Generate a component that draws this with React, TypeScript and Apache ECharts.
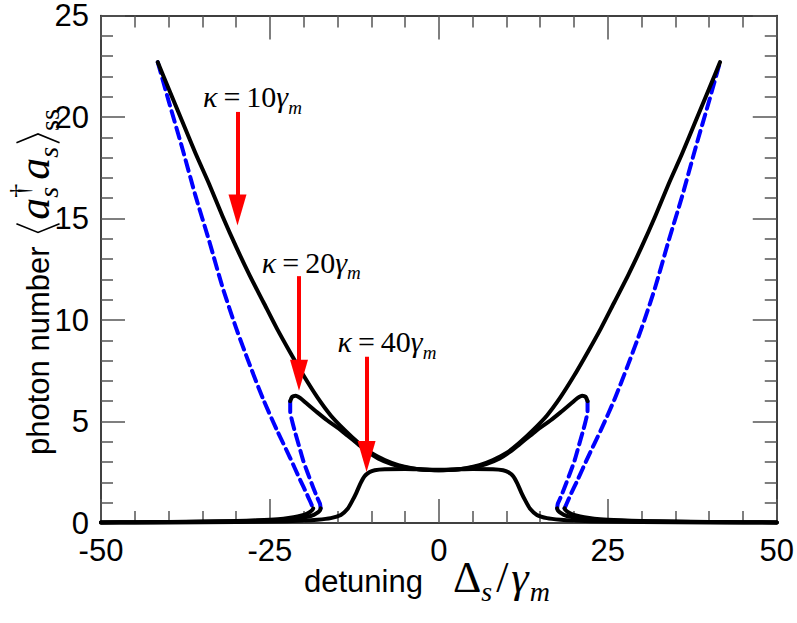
import { useEffect, useRef } from "react";
import * as echarts from "echarts";

const W = 797;
const H = 623;
const GRID = { left: 101, top: 13, width: 679, height: 510 };
const X_MIN = -50, X_MAX = 50, X_STEP = 25;
const Y_MIN = 0, Y_MAX = 25, Y_STEP = 5;

// kappa = 10 gamma_m
const k10Upper = [[-41.6,22.7],[-40,21.4],[-38,19.8],[-36,18.2],[-34,16.7],[-32,15.1],[-30,13.6],[-28,12.2],[-26,10.9],[-24,9.6],[-22,8.4],[-20,7.25],[-18,6.2],[-16,5.3],[-14,4.6],[-12,3.98],[-10,3.45],[-8,3.1],[-6,2.85],[-4,2.7],[-2,2.62],[0,2.6],[2,2.62],[4,2.7],[6,2.85],[8,3.1],[10,3.45],[12,3.98],[14,4.6],[16,5.3],[18,6.2],[20,7.25],[22,8.4],[24,9.6],[26,10.9],[28,12.2],[30,13.6],[32,15.1],[34,16.7],[36,18.2],[38,19.8],[40,21.4],[41.6,22.7]];
const k10DashLeft = [[-41.6,22.7],[-40,20.8],[-38,18.5],[-36,16.1],[-34,13.9],[-32,11.6],[-30,9.6],[-28,7.8],[-26,6.1],[-24,4.6],[-22,3.2],[-20.5,2.1],[-19.5,1.4],[-18.9,0.95],[-18.6,0.72]];
const k10DashRight = [[18.6,0.72],[18.9,0.95],[19.5,1.4],[20.5,2.1],[22,3.2],[24,4.6],[26,6.1],[28,7.8],[30,9.6],[32,11.6],[34,13.9],[36,16.1],[38,18.5],[40,20.8],[41.6,22.7]];
const k10LowLeft = [[-50,0.03],[-45,0.04],[-40,0.05],[-35,0.07],[-30,0.1],[-27,0.13],[-25,0.16],[-23,0.21],[-21.5,0.28],[-20.3,0.37],[-19.5,0.46],[-19,0.56],[-18.7,0.65],[-18.6,0.72]];
const k10LowRight = [[18.6,0.72],[18.7,0.65],[19,0.56],[19.5,0.46],[20.3,0.37],[21.5,0.28],[23,0.21],[25,0.16],[27,0.13],[30,0.1],[35,0.07],[40,0.05],[45,0.04],[50,0.03]];

// kappa = 20 gamma_m
const k20Upper = [[-22,6.0],[-21.7,6.22],[-21.2,6.27],[-20.5,6.15],[-19.6,5.9],[-18,5.45],[-16.5,5.05],[-15,4.7],[-13.5,4.3],[-12,3.9],[-10.5,3.5],[-9,3.18],[-7,2.9],[-5,2.74],[-3,2.65],[0,2.6],[3,2.65],[5,2.74],[7,2.9],[9,3.18],[10.5,3.5],[12,3.9],[13.5,4.3],[15,4.7],[16.5,5.05],[18,5.45],[19.6,5.9],[20.5,6.15],[21.2,6.27],[21.7,6.22],[22,6.0]];
const k20DashLeft = [[-22,6.0],[-22,5.5],[-21.7,5.0],[-21.3,4.5],[-20.7,3.8],[-20.1,3.1],[-19.4,2.45],[-18.6,1.75],[-18,1.25],[-17.6,0.95],[-17.5,0.72]];
const k20DashRight = [[17.5,0.72],[17.6,0.95],[18,1.25],[18.6,1.75],[19.4,2.45],[20.1,3.1],[20.7,3.8],[21.3,4.5],[21.7,5.0],[22,5.5],[22,6.0]];
const k20LowLeft = [[-50,0.03],[-45,0.035],[-40,0.045],[-35,0.06],[-30,0.08],[-26,0.11],[-23,0.16],[-21,0.22],[-19.5,0.3],[-18.5,0.4],[-17.9,0.52],[-17.6,0.62],[-17.5,0.72]];
const k20LowRight = [[17.5,0.72],[17.6,0.62],[17.9,0.52],[18.5,0.4],[19.5,0.3],[21,0.22],[23,0.16],[26,0.11],[30,0.08],[35,0.06],[40,0.045],[45,0.035],[50,0.03]];

// kappa = 40 gamma_m
const k40Curve = [[-50,0.02],[-40,0.03],[-30,0.05],[-25,0.07],[-20,0.12],[-18,0.16],[-16,0.24],[-14.5,0.4],[-13.5,0.7],[-12.8,1.1],[-12.2,1.5],[-11.6,1.95],[-11,2.3],[-10.3,2.5],[-9.5,2.6],[-8,2.65],[-5,2.66],[-2,2.63],[0,2.62],[2,2.63],[5,2.66],[8,2.65],[9.5,2.6],[10.3,2.5],[11,2.3],[11.6,1.95],[12.2,1.5],[12.8,1.1],[13.5,0.7],[14.5,0.4],[16,0.24],[18,0.16],[20,0.12],[25,0.07],[30,0.05],[40,0.03],[50,0.02]];

// annotations (data coordinates)
const kappaValues = ["10", "20", "40"];
const arrowX = [-29.8, -20.7, -10.7];
const arrowTop = [20.25, 12.16, 8.19];
const arrowTip = [14.66, 6.52, 2.51];
const labelX = [-34.9, -26.2, -15.0];
const labelY = [21.0, 12.85, 8.95];

let measureCtx: CanvasRenderingContext2D | null = null;
function measure(text: string, font: string): number {
  if (!measureCtx) measureCtx = document.createElement("canvas").getContext("2d");
  if (!measureCtx) return text.length * 10;
  measureCtx.font = font;
  return measureCtx.measureText(text).width;
}

const SANS = '"Liberation Sans", Arial, Helvetica, sans-serif';
const TICK_SIZE = 31;
const TITLE_SIZE = 31;
const SERIF = '"Liberation Serif", "Times New Roman", serif';

type Part = {
  t: string;
  size: number;
  fam: string;
  it?: boolean;
  dy?: number;
  gap?: number;
  stack?: boolean;
  bracket?: "l" | "r";
};

function layoutParts(parts: Part[], x0: number, base: number) {
  const out: any[] = [];
  let x = x0;
  let lastW = 0;
  for (const p of parts) {
    if (p.bracket) {
      x += p.gap ?? 0;
      const bw = p.size * 0.2;
      const top = base - p.size * 0.74;
      const bot = base + p.size * 0.24;
      const mid = (top + bot) / 2;
      const pts =
        p.bracket === "l"
          ? [[x + bw, top], [x, mid], [x + bw, bot]]
          : [[x, top], [x + bw, mid], [x, bot]];
      out.push({
        type: "polyline",
        silent: true,
        shape: { points: pts },
        style: { stroke: "#000", lineWidth: 1.6, fill: null },
      });
      x += bw;
      lastW = bw;
      continue;
    }
    const font = `${p.it ? "italic " : ""}${p.size}px ${p.fam}`;
    const w = measure(p.t, font);
    let px: number;
    if (p.stack) {
      px = x - lastW;
    } else {
      x += p.gap ?? 0;
      px = x;
    }
    out.push({
      type: "text",
      x: px,
      y: base + (p.dy ?? 0) - 0.34 * p.size,
      silent: true,
      style: {
        text: p.t,
        fontSize: p.size,
        fontFamily: p.fam,
        fontStyle: p.it ? "italic" : "normal",
        fill: "#000",
        align: "left",
        verticalAlign: "middle",
        textAlign: "left",
        textVerticalAlign: "middle",
      },
    });
    if (p.stack) {
      x = Math.max(x, px + w);
    } else {
      x = px + w;
      lastW = w;
    }
  }
  return out;
}

const yTitleParts: Part[] = [
  { t: "photon number", size: TITLE_SIZE, fam: SANS },
  { t: "", size: 44, fam: SERIF, gap: 14, bracket: "l" },
  { t: "a", size: 44, fam: SERIF, it: true, gap: 4 },
  { t: "s", size: 28, fam: SERIF, it: true, dy: 9 },
  { t: "†", size: 28, fam: SERIF, dy: -20, stack: true },
  { t: "a", size: 44, fam: SERIF, it: true, gap: 4 },
  { t: "s", size: 28, fam: SERIF, it: true, dy: 9 },
  { t: "", size: 44, fam: SERIF, gap: 4, bracket: "r" },
  { t: "ss", size: 28, fam: SERIF, dy: 10, gap: 3 },
];

const xTitleParts: Part[] = [
  { t: "detuning", size: TITLE_SIZE, fam: SANS },
  { t: "Δ", size: 44, fam: SERIF, gap: 30 },
  { t: "s", size: 28, fam: SERIF, it: true, dy: 9 },
  { t: "/", size: 44, fam: SERIF, gap: 4 },
  { t: "γ", size: 44, fam: SERIF, it: true, gap: 3 },
  { t: "m", size: 28, fam: SERIF, it: true, dy: 9, gap: 1 },
];

function kappaParts(v: string): Part[] {
  return [
    { t: "κ", size: 30, fam: SERIF, it: true },
    { t: "=", size: 30, fam: SERIF, gap: 6 },
    { t: v, size: 30, fam: SERIF, gap: 6 },
    { t: "γ", size: 30, fam: SERIF, it: true },
    { t: "m", size: 19, fam: SERIF, it: true, dy: 7 },
  ];
}

const TICK_COLOR = "#555";
const ARROW_HEAD_W = 18;
const ARROW_HEAD_H = 31;

function axisCommon(showLabel: boolean) {
  return {
    axisLine: { show: true, onZero: false, lineStyle: { color: "#000", width: 1.5 } },
    axisTick: { show: true, inside: true, length: 24, lineStyle: { color: TICK_COLOR, width: 1.5 } },
    minorTick: { show: true, splitNumber: 5, length: 12, lineStyle: { color: TICK_COLOR, width: 1.5 } },
    splitLine: { show: false },
    minorSplitLine: { show: false },
    axisLabel: {
      show: showLabel,
      fontSize: TICK_SIZE,
      fontFamily: SANS,
      color: "#000",
      margin: 12,
    },
  };
}

export default function App() {
  const ref = useRef<HTMLDivElement>(null);
  useEffect(() => {
    if (!ref.current) return;
    const chart = echarts.init(ref.current, null, { renderer: "svg" });
    const line = (data: number[][], color: string, dashed: boolean, z: number) => ({
      type: "line",
      data,
      symbol: "none",
      showSymbol: false,
      smooth: 0.25,
      silent: true,
      z,
      lineStyle: { color, width: 4, type: dashed ? [11, 6] : "solid", cap: "round", join: "round" },
    });
    const pxPerY = GRID.height / (Y_MAX - Y_MIN);
    const arrowLines = arrowX.map((x, i) => [
      { coord: [x, arrowTop[i]] },
      { coord: [x, arrowTip[i] + ARROW_HEAD_H / 2 / pxPerY] },
    ]);
    const blue = "#0000ff";
    const black = "#000000";
    chart.setOption({
      animation: false,
      backgroundColor: "#fff",
      grid: { ...GRID, containLabel: false },
      xAxis: [
        { type: "value", min: X_MIN, max: X_MAX, interval: X_STEP, position: "bottom", ...axisCommon(true) },
        { type: "value", min: X_MIN, max: X_MAX, interval: X_STEP, position: "top", ...axisCommon(false) },
      ],
      yAxis: [
        { type: "value", min: Y_MIN, max: Y_MAX, interval: Y_STEP, position: "left", ...axisCommon(true) },
        { type: "value", min: Y_MIN, max: Y_MAX, interval: Y_STEP, position: "right", ...axisCommon(false) },
      ],
      series: [
        line(k10DashLeft, blue, true, 2),
        line(k10DashRight, blue, true, 2),
        line(k20DashLeft, blue, true, 2),
        line(k20DashRight, blue, true, 2),
        line(k10Upper, black, false, 3),
        line(k10LowLeft, black, false, 3),
        line(k10LowRight, black, false, 3),
        line(k20Upper, black, false, 3),
        line(k20LowLeft, black, false, 3),
        line(k20LowRight, black, false, 3),
        line(k40Curve, black, false, 3),
        {
          type: "line",
          data: [],
          silent: true,
          z: 5,
          markLine: {
            silent: true,
            animation: false,
            symbol: ["none", "triangle"],
            symbolSize: [ARROW_HEAD_W, ARROW_HEAD_H],
            label: { show: false },
            emphasis: { disabled: true },
            lineStyle: { color: "#ff0000", width: 4, type: "solid" },
            data: arrowLines,
          },
        },
      ],
    });

    const graphics: any[] = [];
    graphics.push({
      type: "group",
      x: 49,
      y: 455,
      rotation: Math.PI / 2,
      children: layoutParts(yTitleParts, 0, 0),
    });
    graphics.push(...layoutParts(xTitleParts, 304, 592));
    kappaValues.forEach((v, i) => {
      const p = chart.convertToPixel({ gridIndex: 0 }, [labelX[i], labelY[i]]) as number[];
      graphics.push(...layoutParts(kappaParts(v), p[0], p[1] + 0.34 * 30));
    });
    chart.setOption({ graphic: graphics });

    return () => chart.dispose();
  }, []);
  return (
    <div
      ref={ref}
      style={{ position: "fixed", left: 0, top: 0, width: W, height: H, background: "#fff" }}
    />
  );
}
